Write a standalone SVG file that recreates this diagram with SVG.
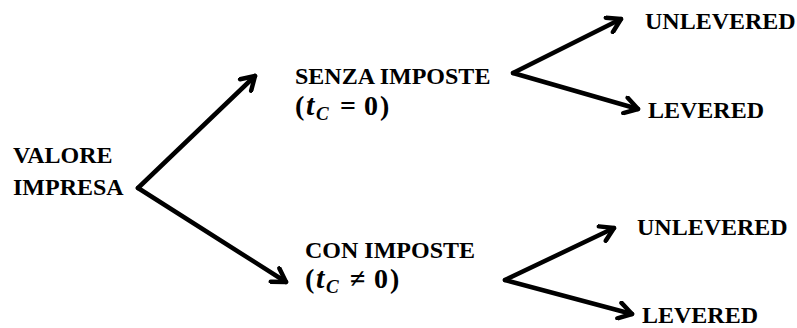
<svg xmlns="http://www.w3.org/2000/svg" width="797" height="328" viewBox="0 0 797 328">
<style>
.t{font-family:"Liberation Serif","Times New Roman",serif;font-weight:bold;font-size:24px;fill:#000}
.m{font-family:"Liberation Serif","Times New Roman",serif;font-weight:bold;font-size:28px;fill:#000}
.i{font-style:italic;font-size:30px}
.sub{font-style:italic;font-size:19px}
.c{fill:none;stroke:#000;stroke-width:4.5;stroke-linecap:round;stroke-linejoin:round}
</style>
<defs>
<marker id="ah" viewBox="-16 -10 20 20" refX="0" refY="0" markerWidth="20" markerHeight="20" markerUnits="userSpaceOnUse" orient="auto">
<path d="M-13,-8 L0,0 L-13,8" fill="none" stroke="#000" stroke-width="4.5" stroke-linecap="round" stroke-linejoin="round"/>
</marker>
</defs>
<rect width="797" height="328" fill="#fff"/>
<g id="connectors">
<path class="c" d="M138,188 L255,76" marker-end="url(#ah)"/>
<path class="c" d="M138,188 L286,282" marker-end="url(#ah)"/>
<path class="c" d="M513,73 L621,19" marker-end="url(#ah)"/>
<path class="c" d="M513,73 L638,109" marker-end="url(#ah)"/>
<path class="c" d="M505,280 L614,228" marker-end="url(#ah)"/>
<path class="c" d="M505,280 L632,314" marker-end="url(#ah)"/>
</g>
<g id="valore">
<text class="t" x="13" y="163">VALORE</text>
<text class="t" x="13" y="195">IMPRESA</text>
</g>
<g id="senza">
<text class="t" x="295" y="84">SENZA IMPOSTE</text>
<text class="m" y="115"><tspan x="295">(</tspan><tspan class="i" x="306">t</tspan><tspan class="sub" x="316" dy="5">C</tspan><tspan x="340" dy="-5">=</tspan><tspan x="364">0</tspan><tspan x="380">)</tspan></text>
</g>
<g id="con">
<text class="t" x="305" y="258">CON IMPOSTE</text>
<text class="m" y="288"><tspan x="305">(</tspan><tspan class="i" x="316">t</tspan><tspan class="sub" x="326" dy="5">C</tspan><tspan x="350" dy="-5">≠</tspan><tspan x="374">0</tspan><tspan x="390">)</tspan></text>
</g>
<g id="unlev1"><text class="t" x="645" y="29">UNLEVERED</text></g>
<g id="lev1"><text class="t" x="648" y="118">LEVERED</text></g>
<g id="unlev2"><text class="t" x="637" y="235">UNLEVERED</text></g>
<g id="lev2"><text class="t" x="642" y="323">LEVERED</text></g>
</svg>
